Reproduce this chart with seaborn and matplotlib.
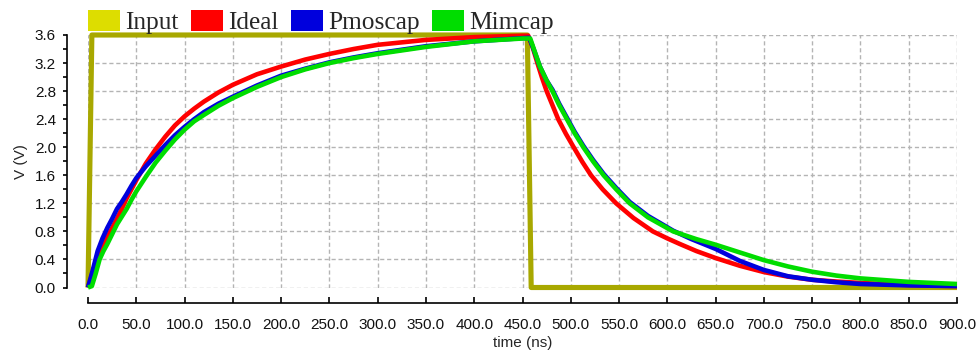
import matplotlib
matplotlib.use("Agg")
import matplotlib.pyplot as plt
from matplotlib.patches import Patch
from matplotlib.ticker import MultipleLocator, FormatStrFormatter
import pandas as pd
import seaborn as sns

# Transient response of the RC node: input pulse and three capacitor variants
input_t = [0, 4, 455, 459, 900]
input_v = [0.0, 3.6, 3.6, 0.0, 0.0]

ideal_t = [0, 5, 10, 15, 20, 25, 30, 35, 40, 45, 50, 60, 70, 80, 90, 100, 110,
           120, 135, 150, 175, 200, 225, 250, 275, 300, 350, 400, 450, 456,
           460, 465, 470, 475, 481, 487, 495, 503, 512, 521, 533, 547, 565, 585,
           600, 613, 630, 650, 675, 700, 725, 750, 775, 800, 850, 900]
ideal_v = [0.0, 0.22, 0.45, 0.60, 0.72, 0.85, 0.98, 1.12, 1.27, 1.40, 1.53, 1.77,
           1.97, 2.15, 2.31, 2.44, 2.55, 2.65, 2.78, 2.89, 3.04, 3.15, 3.25, 3.33,
           3.40, 3.46, 3.53, 3.57, 3.59, 3.59,
           3.45, 3.22, 3.00, 2.80, 2.60, 2.40, 2.19, 2.00, 1.79, 1.60, 1.40, 1.20,
           0.99, 0.80, 0.70, 0.62, 0.52, 0.42, 0.31, 0.22, 0.155, 0.11, 0.085,
           0.065, 0.035, 0.02]

pmos_t = [0, 5, 10, 15, 20, 25, 30, 35, 40, 45, 50, 60, 70, 80, 90, 100, 110,
          120, 135, 150, 175, 200, 225, 250, 275, 300, 350, 400, 450, 457,
          462, 468, 475, 481, 488, 496, 504, 513, 523, 534, 547, 561, 580, 606,
          625, 650, 675, 700, 725, 750, 775, 800, 850, 900]
pmos_v = [0.0, 0.25, 0.52, 0.70, 0.85, 0.98, 1.12, 1.22, 1.33, 1.45, 1.56, 1.73,
          1.88, 2.03, 2.17, 2.29, 2.40, 2.50, 2.62, 2.72, 2.88, 3.02, 3.12, 3.21,
          3.28, 3.34, 3.44, 3.51, 3.555, 3.56,
          3.38, 3.15, 2.95, 2.82, 2.62, 2.42, 2.22, 2.02, 1.82, 1.62, 1.42, 1.22,
          1.02, 0.81, 0.69, 0.55, 0.38, 0.25, 0.16, 0.11, 0.075, 0.05, 0.03, 0.02]

mim_t = [0, 4, 8, 12, 16, 20, 25, 30, 35, 40, 45, 50, 60, 70, 80, 90, 100, 110,
         120, 135, 150, 175, 200, 225, 250, 275, 300, 350, 400, 450, 458,
         463, 468, 475, 481, 488, 496, 504, 513, 523, 534, 547, 561, 580, 606,
         630, 650, 675, 700, 725, 750, 775, 800, 850, 900]
mim_v = [0.0, 0.02, 0.20, 0.40, 0.52, 0.62, 0.76, 0.90, 1.01, 1.12, 1.25, 1.37,
         1.58, 1.78, 1.95, 2.11, 2.25, 2.37, 2.46, 2.59, 2.70, 2.86, 3.00, 3.11,
         3.20, 3.27, 3.33, 3.43, 3.51, 3.55, 3.55,
         3.35, 3.15, 2.95, 2.80, 2.60, 2.40, 2.20, 2.00, 1.80, 1.60, 1.40, 1.20,
         1.00, 0.80, 0.69, 0.61, 0.50, 0.39, 0.30, 0.225, 0.17, 0.13, 0.08, 0.05]

series_names = ["Input", "Ideal", "Pmoscap", "Mimcap"]
line_colors = {"Input": "#a8a800", "Ideal": "#ff0000",
               "Pmoscap": "#0000dd", "Mimcap": "#00dd00"}
legend_colors = {"Input": "#dddd00", "Ideal": "#ff0000",
                 "Pmoscap": "#0000dd", "Mimcap": "#00dd00"}

frames = []
for name, t, v in [("Input", input_t, input_v), ("Ideal", ideal_t, ideal_v),
                   ("Pmoscap", pmos_t, pmos_v), ("Mimcap", mim_t, mim_v)]:
    frames.append(pd.DataFrame({"time": t, "volt": v, "series": name}))
data = pd.concat(frames, ignore_index=True)

sns.set_theme(style="white")
plt.rcParams["font.family"] = ["Liberation Sans Narrow", "Liberation Sans", "DejaVu Sans"]

fig = plt.figure(figsize=(9.76, 3.56), dpi=100)
ax = fig.add_axes([88 / 976, 1 - 287.5 / 356, (957 - 88) / 976, (287.5 - 35) / 356])

sns.lineplot(data=data, x="time", y="volt", hue="series", hue_order=series_names,
             palette=line_colors, estimator=None, sort=False, linewidth=3.3,
             legend=False, ax=ax)
for ln in ax.get_lines():
    ln.set_clip_on(False)
    ln.set_solid_joinstyle("round")
    ln.set_solid_capstyle("butt")
ax.get_lines()[0].set_linewidth(3.7)

ax.set_xlim(0, 900)
ax.set_ylim(0, 3.6)
ax.xaxis.set_major_locator(MultipleLocator(50))
ax.yaxis.set_major_locator(MultipleLocator(0.4))
ax.yaxis.set_minor_locator(MultipleLocator(0.2))
ax.xaxis.set_major_formatter(FormatStrFormatter("%.1f"))
ax.yaxis.set_major_formatter(FormatStrFormatter("%.1f"))

ax.set_axisbelow(True)
ax.grid(True, which="major", color="#b4b4b4", linestyle=(0, (3, 2)), linewidth=1.0)

for side in ("top", "right"):
    ax.spines[side].set_visible(False)
ax.spines["left"].set_position(("outward", 21 * 0.72))
ax.spines["bottom"].set_position(("outward", 15.5 * 0.72))
for side in ("left", "bottom"):
    ax.spines[side].set_color("black")
    ax.spines[side].set_linewidth(1.2)

ax.tick_params(axis="y", which="both", direction="out", length=3, width=1.2,
               color="black", left=True, labelsize=11, pad=5, labelcolor="#111111")
ax.tick_params(axis="x", which="major", direction="in", length=4, width=1.2,
               color="black", bottom=True, labelsize=11, pad=11, labelcolor="#111111")

ax.set_xlabel("time (ns)", fontsize=11, labelpad=3)
ax.set_ylabel("V (V)", fontsize=11, labelpad=5)

handles = [Patch(facecolor=legend_colors[n], edgecolor="none", label=n)
           for n in series_names]
ax.legend(handles=handles, ncol=4, loc="lower left",
          bbox_to_anchor=(0.0, 1.003), frameon=False, borderaxespad=0,
          borderpad=0, handlelength=1.25, handleheight=0.95, handletextpad=0.22,
          columnspacing=0.48, prop={"family": "Liberation Serif", "size": 18.3})

fig.savefig("out.png", dpi=100)
